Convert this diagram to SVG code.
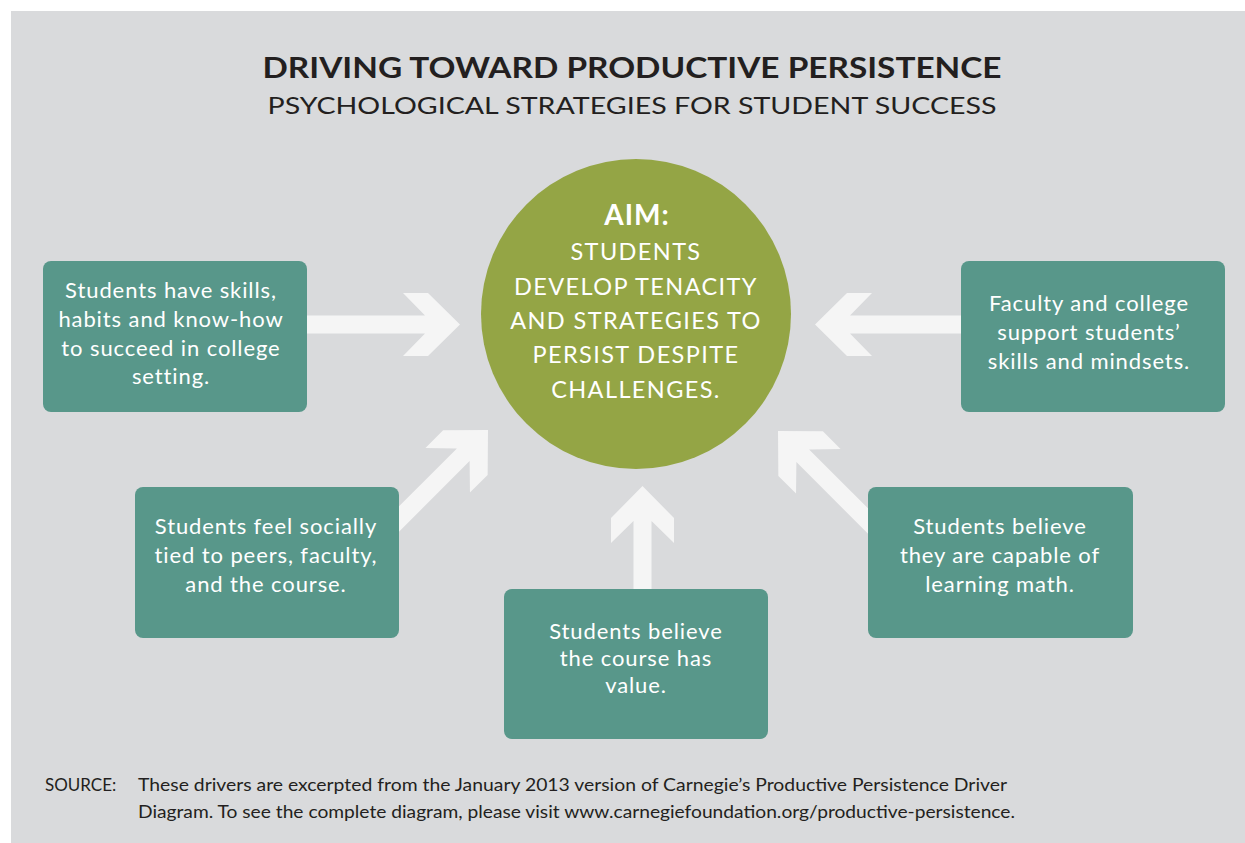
<svg xmlns="http://www.w3.org/2000/svg" width="1245" height="843" viewBox="0 0 1245 843">
  <style>
    .bg { fill: #d9dadc; }
    .box { fill: #58978a; }
    .arrow { fill: #f5f5f5; }
    .aim { fill: #94a545; }
    .btxt { font-family: Lato, "Open Sans", sans-serif; font-size: 22px; fill: #ffffff; text-anchor: middle; letter-spacing: 0.9px; }
    .ctxt { font-family: Lato, "Open Sans", sans-serif; font-size: 23.5px; fill: #ffffff; text-anchor: middle; letter-spacing: 1.4px; }
    .title { font-family: Lato, "Liberation Sans", sans-serif; font-weight: bold; font-size: 29px; fill: #231f20; text-anchor: middle; }
    .sub { font-family: Lato, "Liberation Sans", sans-serif; font-size: 24px; fill: #231f20; text-anchor: middle; }
    .src { font-family: Lato, "Liberation Sans", sans-serif; font-size: 17px; fill: #231f20; }
  </style>
  <defs>
    <path id="arr" d="M0,0 L-32,-31.5 L-57,-31.5 L-35,-9 L-160,-9 L-160,9 L-35,9 L-57,31.5 L-32,31.5 Z"/>
  </defs>
  <rect class="bg" x="11" y="11" width="1234" height="832"/>

  <g id="title">
    <text class="title" x="632" y="78" textLength="739" lengthAdjust="spacingAndGlyphs">DRIVING TOWARD PRODUCTIVE PERSISTENCE</text>
    <text class="sub" x="632" y="114" textLength="729" lengthAdjust="spacingAndGlyphs">PSYCHOLOGICAL STRATEGIES FOR STUDENT SUCCESS</text>
  </g>

  <g id="connectors">
    <use href="#arr" class="arrow" transform="translate(460,324.5)"/>
    <use href="#arr" class="arrow" transform="translate(815,324.5) rotate(180)"/>
    <use href="#arr" class="arrow" transform="translate(488,430) rotate(-45)"/>
    <use href="#arr" class="arrow" transform="translate(778,431) rotate(-135)"/>
    <use href="#arr" class="arrow" transform="translate(642.5,486) rotate(-90)"/>
  </g>

  <g id="aim">
    <circle class="aim" cx="636" cy="314" r="155"/>
    <text class="ctxt" x="637" y="225" style="font-weight:bold;font-size:28px;letter-spacing:1px">AIM:</text>
    <text class="ctxt" x="636" y="260">STUDENTS</text>
    <text class="ctxt" x="636" y="295">DEVELOP TENACITY</text>
    <text class="ctxt" x="636" y="329">AND STRATEGIES TO</text>
    <text class="ctxt" x="636" y="363">PERSIST DESPITE</text>
    <text class="ctxt" x="636" y="398">CHALLENGES.</text>
  </g>

  <g id="node-skills">
    <rect class="box" x="43" y="261" width="264" height="151" rx="8"/>
    <text class="btxt" x="171" y="298">Students have skills,</text>
    <text class="btxt" x="171" y="327">habits and know-how</text>
    <text class="btxt" x="171" y="356">to succeed in college</text>
    <text class="btxt" x="171" y="384">setting.</text>
  </g>

  <g id="node-faculty">
    <rect class="box" x="961" y="261" width="264" height="151" rx="8"/>
    <text class="btxt" x="1089" y="311">Faculty and college</text>
    <text class="btxt" x="1089" y="340">support students’</text>
    <text class="btxt" x="1089" y="369">skills and mindsets.</text>
  </g>

  <g id="node-social">
    <rect class="box" x="135" y="487" width="264" height="151" rx="8"/>
    <text class="btxt" x="266" y="534">Students feel socially</text>
    <text class="btxt" x="266" y="563">tied to peers, faculty,</text>
    <text class="btxt" x="266" y="592">and the course.</text>
  </g>

  <g id="node-value">
    <rect class="box" x="504" y="589" width="264" height="150" rx="8"/>
    <text class="btxt" x="636" y="639">Students believe</text>
    <text class="btxt" x="636" y="666">the course has</text>
    <text class="btxt" x="636" y="693">value.</text>
  </g>

  <g id="node-math">
    <rect class="box" x="868" y="487" width="265" height="151" rx="8"/>
    <text class="btxt" x="1000" y="534">Students believe</text>
    <text class="btxt" x="1000" y="563">they are capable of</text>
    <text class="btxt" x="1000" y="592">learning math.</text>
  </g>

  <g id="source">
    <text class="src" x="45" y="791">SOURCE:</text>
    <text class="src" x="138" y="791" textLength="869" lengthAdjust="spacingAndGlyphs">These drivers are excerpted from the January 2013 version of Carnegie’s Productive Persistence Driver</text>
    <text class="src" x="138" y="818" textLength="877" lengthAdjust="spacingAndGlyphs">Diagram. To see the complete diagram, please visit www.carnegiefoundation.org/productive-persistence.</text>
  </g>
</svg>
